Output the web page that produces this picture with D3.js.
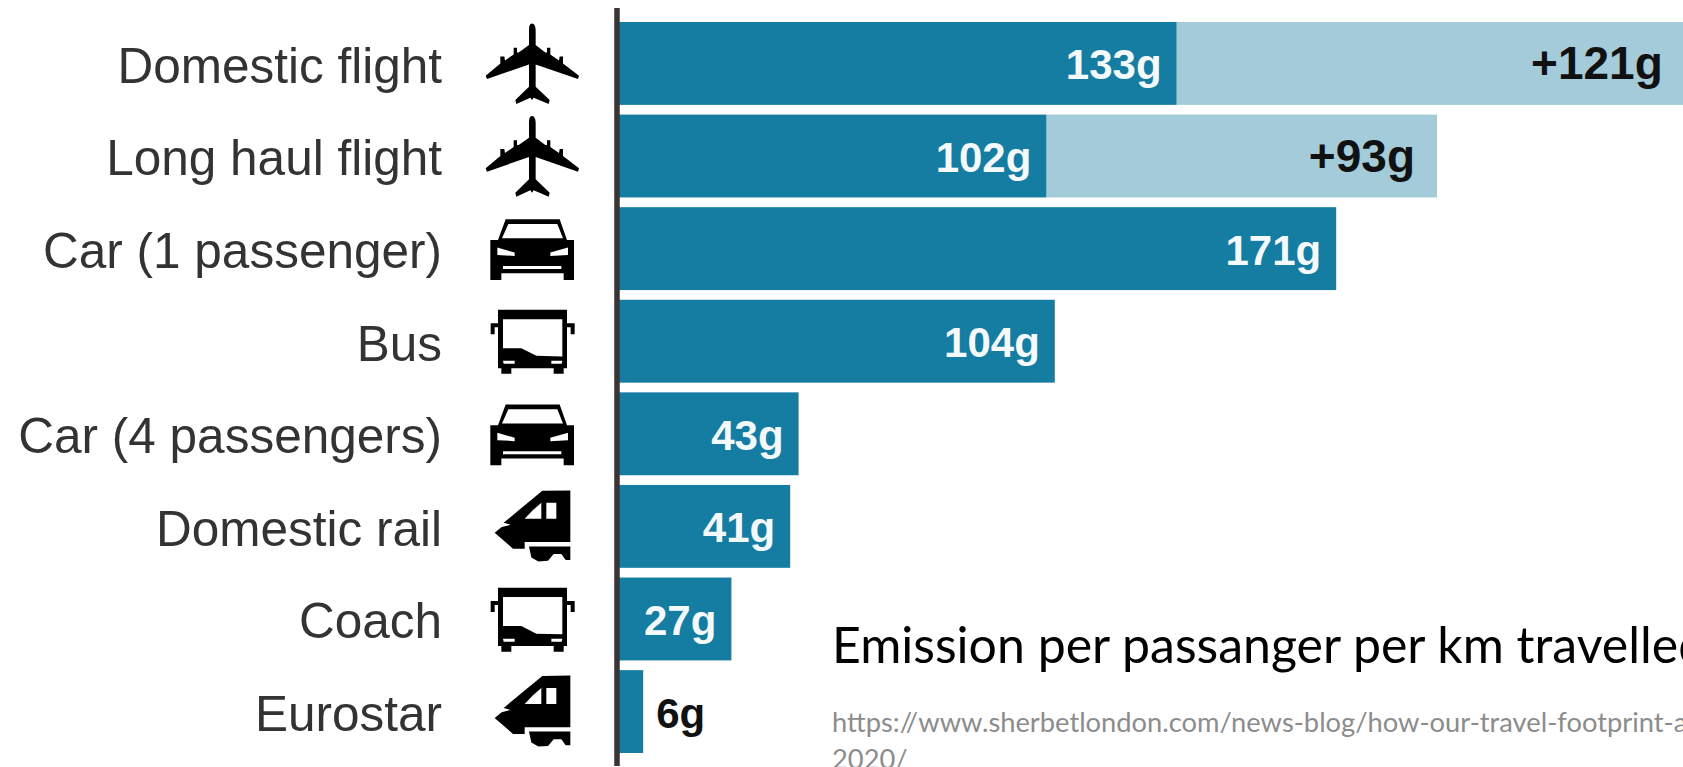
<!DOCTYPE html>
<html><head><meta charset="utf-8">
<script src="https://cdn.jsdelivr.net/npm/d3@7"></script>
<style>html,body{margin:0;padding:0;background:#fff;overflow:hidden}svg{display:block}</style>
</head><body><svg id="c" width="1683" height="767"></svg>
<script>
const categories=["Domestic flight","Long haul flight","Car (1 passenger)","Bus","Car (4 passengers)","Domestic rail","Coach","Eurostar"];
const emissions=[133,102,171,104,43,41,27,6];
const extras=[121,93,0,0,0,0,0,0];
const icons=["plane","plane","car","bus","car","train","bus","train"];
const title="Emission per passanger per km travelled";
const urlLines=["https://www.sherbetlondon.com/news-blog/how-our-travel-footprint-a","2020/"];

const W=1683,H=767;
const svg=d3.select("#c");
const x=d3.scaleLinear().domain([0,254]).range([618,1684.8]);
const y=d3.scaleBand().domain(categories).range([22,753]).paddingInner(0.105).paddingOuter(0);
const rows=categories.map((c,i)=>({c,v:emissions[i],e:extras[i],icon:icons[i]}));

const DARK="#157ca2",LIGHT="#a3cbd9",AXIS="#3a3434";

// icon drawings, local coordinates at 3x
const iconDefs={
 plane:{cy:145,d:"M157 25C150 25 148 35 148 45L148 90L117 112L112 112L112 98L102 98L102 118L76 136L74 124L62 124L62 145L18 182L22 192L148 148L148 215L107 255L110 267L152 248L157 255L162 248L207 267L210 255L168 215L168 148L295 192L298 182L250 145L250 124L240 124L238 136L212 118L212 98L202 98L202 112L197 112L168 90L168 45C168 35 164 25 157 25Z"},
 car:{cy:116,d:"M78 28L240 28L262 90L283 90L283 210L252 210L252 190L65 190L65 210L32 210L32 90L55 90ZM86 42L67 85L250 85L233 42ZM53 113L53 135L105 138L105 128ZM265 113L212 128L212 138L265 135ZM70 168L70 177L245 177L245 168Z"},
 bus:{cy:124,d:"M55 30L262 30L262 70L285 70L285 103L273 103L273 82L262 82L262 205L252 205L252 222L222 222L222 205L95 205L95 222L65 222L65 205L55 205L55 82L45 82L45 103L33 103L33 70L55 70ZM70 58L70 145L125 145L170 168L248 170L248 58ZM70 183L72 192L105 192L105 183ZM215 183L215 192L246 192L248 183Z"},
 train:{cy:123,d:"M272 15L188 16L72 112L93 118L66 125L45 142L100 190L135 190L135 170L272 170ZM185 52L185 100L135 100L160 74ZM200 52L230 52L230 100L200 100ZM148 183L272 183L272 224L258 224L245 206L222 206L205 226L176 228L155 216Z"}
};

// bars
svg.append("g").selectAll("rect.extra").data(rows.filter(d=>d.e>0)).join("rect")
 .attr("class","extra").attr("x",d=>x(d.v)).attr("y",d=>y(d.c))
 .attr("width",d=>x(d.v+d.e)-x(d.v)).attr("height",y.bandwidth()).attr("fill",LIGHT);
svg.append("g").selectAll("rect.base").data(rows).join("rect")
 .attr("class","base").attr("x",x(0)).attr("y",d=>y(d.c))
 .attr("width",d=>x(d.v)-x(0)).attr("height",y.bandwidth()).attr("fill",DARK);

// vertical rule
svg.append("line").attr("x1",x(0)-1).attr("x2",x(0)-1).attr("y1",8).attr("y2",766)
 .attr("stroke",AXIS).attr("stroke-width",5.5);

// category labels
const ax=svg.append("g").attr("transform","translate(442,2)")
 .call(d3.axisLeft(y).tickSize(0).tickPadding(0));
ax.select(".domain").remove();
ax.selectAll("text").attr("font-family","'Liberation Sans',Arial,sans-serif").attr("font-size",49.5)
 .attr("fill","#333").attr("dy","0.35em");

// icons
svg.append("g").selectAll("path").data(rows).join("path")
 .attr("d",d=>iconDefs[d.icon].d).attr("fill","#000").attr("fill-rule","evenodd")
 .attr("transform",d=>`translate(532,${y(d.c)+y.bandwidth()/2}) scale(${1/3}) translate(-157,${-iconDefs[d.icon].cy})`);

// value labels
const bold="'Liberation Sans',Arial,sans-serif";
svg.append("g").selectAll("text").data(rows).join("text")
 .attr("x",d=>d.v<10?x(d.v)+13:x(d.v)-15)
 .attr("text-anchor",d=>d.v<10?"start":"end")
 .attr("y",d=>y(d.c)+y.bandwidth()/2+16)
 .attr("font-family",bold).attr("font-weight","bold").attr("font-size",42)
 .attr("fill",d=>d.v<10?"#111":"#f4f9fb").text(d=>d.v+"g");
svg.append("g").selectAll("text").data(rows.filter(d=>d.e>0)).join("text")
 .attr("x",d=>x(d.v+d.e)-22).attr("text-anchor","end")
 .attr("y",d=>y(d.c)+y.bandwidth()/2+16)
 .attr("font-family",bold).attr("font-weight","bold").attr("font-size",46)
 .attr("fill","#111").text(d=>"+"+d.e+"g");

// note
svg.append("text").attr("x",832).attr("y",663).attr("font-family","Lato,sans-serif")
 .attr("font-size",50).attr("fill","#000").text(title);
svg.append("g").selectAll("text").data(urlLines).join("text")
 .attr("x",832).attr("y",(d,i)=>732+i*37).attr("font-family","Lato,sans-serif")
 .attr("font-size",27.3).attr("fill","#8c8c8c").text(d=>d);
</script></body></html>
